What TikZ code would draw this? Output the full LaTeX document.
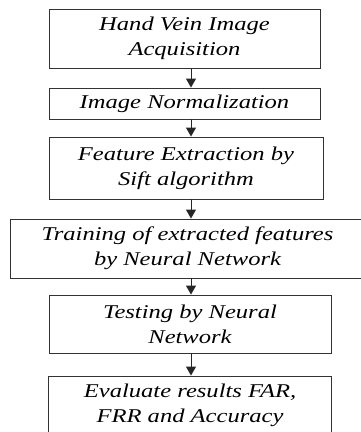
\documentclass[tikz,border=0pt]{standalone}
\usepackage{fontspec}
\newfontfamily\flowfont{Liberation Serif}[FakeStretch=1.26]
\usetikzlibrary{arrows.meta}

\tikzset{
  stage/.style={draw=black!80, line width=0.9pt, inner sep=0pt, align=center,
    font=\flowfont\itshape\fontsize{19.5}{25}\selectfont},
  flow/.style={draw=black!85, line width=0.9pt, -{Triangle[width=10pt,length=9pt]}}
}

\begin{document}
\begin{tikzpicture}[x=1pt, y=-1pt]
    \useasboundingbox (0,0) rectangle (360,432);

    % stages, top to bottom
    \node[stage, minimum width=271pt, minimum height=59pt] (acq) at (184.5,38.5)
        {Hand Vein Image\\Acquisition};
    \node[stage, minimum width=271pt, minimum height=31pt] (norm) at (184.5,103.5)
        {Image Normalization};
    \node[stage, minimum width=274pt, minimum height=62pt] (sift) at (186,168)
        {Feature Extraction by\\Sift algorithm};
    \node[stage, minimum width=355pt, minimum height=59pt] (train) at (187.5,248.5)
        {Training of extracted features\\by Neural Network};
    \node[stage, minimum width=282pt, minimum height=58pt] (test) at (190,324)
        {Testing by Neural\\Network};
    \node[stage, minimum width=283pt, minimum height=58pt] (eval) at (190,405)
        {Evaluate results FAR,\\FRR and Accuracy};

    % arrows down the middle
    \coordinate (axis) at (191,0);
    \draw[flow] (acq.south -| axis) -- (norm.north -| axis);
    \draw[flow] (norm.south -| axis) -- (sift.north -| axis);
    \draw[flow] (sift.south -| axis) -- (train.north -| axis);
    \draw[flow] (train.south -| axis) -- (test.north -| axis);
    \draw[flow] (test.south -| axis) -- (eval.north -| axis);
\end{tikzpicture}
\end{document}
